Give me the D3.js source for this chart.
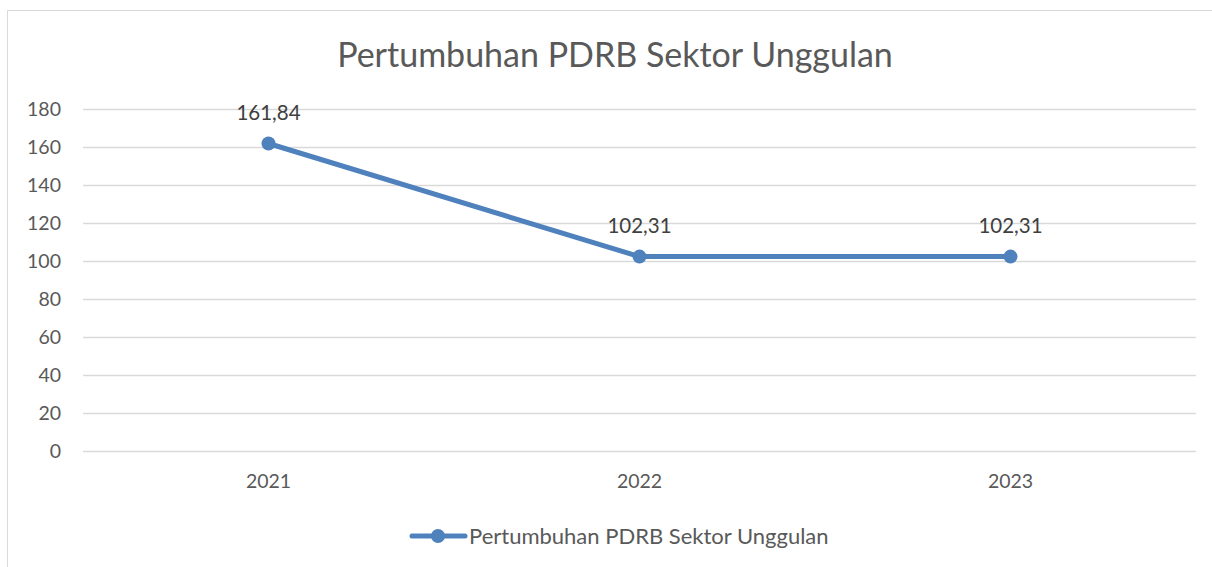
<!DOCTYPE html>
<html>
<head>
<meta charset="utf-8">
<script src="https://cdn.jsdelivr.net/npm/d3@7.9.0/dist/d3.min.js"></script>
<style>
  body { margin: 0; background: #fff; }
  svg { display: block; font-family: Lato, "Open Sans", sans-serif; }
</style>
</head>
<body>
<svg id="chart" width="1212" height="567"></svg>
<script>
const title = 'Pertumbuhan PDRB Sektor Unggulan'
const years = ['2021', '2022', '2023']
const values = [161.84, 102.31, 102.31]
const labels = ['161,84', '102,31', '102,31']
const yTicks = [0, 20, 40, 60, 80, 100, 120, 140, 160, 180]

const svg = d3.select('#chart')
const blue = '#4f81bd'
const grey = '#595959'

// chart frame (right/bottom edges run off the page)
svg.append('path')
    .attr('d', 'M7.5,567 V10.5 H1212')
    .attr('fill', 'none')
    .attr('stroke', '#d9d9d9')
    .attr('stroke-width', 1)

const x = d3.scaleBand().domain(years).range([83, 1196])
const y = d3.scaleLinear().domain([0, 180]).range([451, 109])

svg.append('text')
    .attr('x', 615).attr('y', 67)
    .attr('text-anchor', 'middle')
    .attr('font-size', 34)
    .attr('fill', grey)
    .text(title)

// gridlines
svg.append('g')
    .selectAll('line')
    .data(yTicks)
    .join('line')
    .attr('x1', 83).attr('x2', 1196)
    .attr('y1', d => Math.round(y(d)) + 0.5)
    .attr('y2', d => Math.round(y(d)) + 0.5)
    .attr('stroke', '#d9d9d9')
    .attr('stroke-width', 1.3)

const yAxis = svg.append('g')
    .attr('transform', 'translate(61,0)')
    .call(d3.axisLeft(y).tickValues(yTicks).tickSize(0).tickPadding(0))
yAxis.select('.domain').remove()
yAxis.selectAll('text')
    .attr('font-size', 19.5).attr('fill', grey)
    .attr('font-family', 'Lato, "Open Sans", sans-serif')

const xAxis = svg.append('g')
    .attr('transform', 'translate(0,474)')
    .call(d3.axisBottom(x).tickSize(0).tickPadding(0))
xAxis.select('.domain').remove()
xAxis.selectAll('text')
    .attr('font-size', 19.5).attr('fill', grey)
    .attr('font-family', 'Lato, "Open Sans", sans-serif')

const cx = d => x(d) + x.bandwidth() / 2
const pts = years.map((yr, i) => [cx(yr), y(values[i])])

svg.append('path')
    .attr('d', d3.line()(pts))
    .attr('fill', 'none')
    .attr('stroke', blue)
    .attr('stroke-width', 5)
    .attr('stroke-linejoin', 'round')
    .attr('stroke-linecap', 'round')

svg.append('g')
    .selectAll('circle')
    .data(pts)
    .join('circle')
    .attr('cx', d => d[0]).attr('cy', d => d[1])
    .attr('r', 7)
    .attr('fill', blue)

svg.append('g')
    .selectAll('text')
    .data(pts)
    .join('text')
    .attr('x', d => d[0]).attr('y', d => d[1] - 24)
    .attr('text-anchor', 'middle')
    .attr('font-size', 20.5)
    .attr('fill', '#404040')
    .text((d, i) => labels[i])

// legend
const lg = svg.append('g').attr('transform', 'translate(0,536)')
lg.append('line')
    .attr('x1', 412).attr('x2', 465)
    .attr('stroke', blue).attr('stroke-width', 5)
    .attr('stroke-linecap', 'round')
lg.append('circle').attr('cx', 438).attr('r', 7).attr('fill', blue)
lg.append('text')
    .attr('x', 469).attr('y', 7.5)
    .attr('font-size', 22)
    .attr('fill', grey)
    .text(title)
</script>
</body>
</html>
